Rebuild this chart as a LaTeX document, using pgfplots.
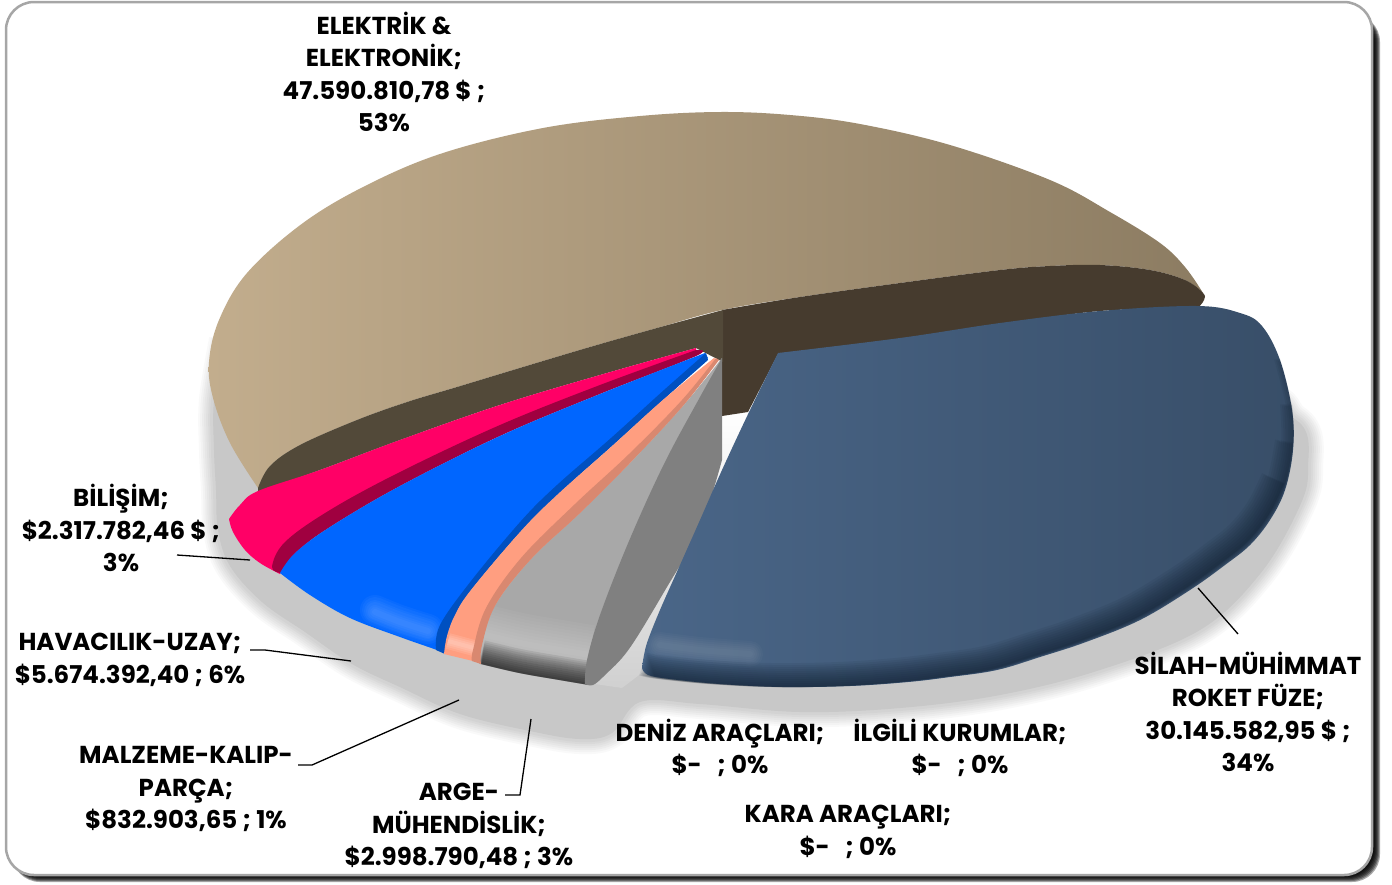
\documentclass[border=0pt]{standalone}
\usepackage{pgfplots}
\usepackage{pgfplotstable}
\usepackage{fontspec}
\setmainfont{Poppins}
\pgfplotsset{compat=1.18}
\definecolor{tanL}{HTML}{C2AD8D}
\definecolor{tanR}{HTML}{8C7C62}
\definecolor{wallL}{HTML}{524939}
\definecolor{wallR}{HTML}{463B2E}
\definecolor{pinkT}{HTML}{FF0066}
\definecolor{pinkD}{HTML}{A00040}
\definecolor{blueT}{HTML}{0066FF}
\definecolor{blueD}{HTML}{0050C0}
\definecolor{peachT}{HTML}{FF9E80}
\definecolor{peachD}{HTML}{D98870}
\definecolor{greyT}{HTML}{A8A8A8}
\definecolor{greyS}{HTML}{808080}
\definecolor{navyL}{HTML}{4A6688}
\definecolor{navyR}{HTML}{384E68}
\definecolor{navyK}{HTML}{0E1C2C}
\definecolor{shad}{HTML}{C8C8C8}
\pgfplotstableread[row sep=\\]{x y\\
224 340\\ 214 400\\ 214 450\\ 216 490\\ 218 530\\ 230 566\\ 262 602\\ 305 632\\ 352 664\\ 402 688\\ 460 714\\ 530 731\\ 580 739\\ 612 733\\ 640 702\\ 700 704\\ 800 712\\ 900 708\\ 1000 695\\ 1100 670\\ 1200 630\\ 1260 574\\ 1298 510\\ 1308 470\\ 1296 420\\ 1200 400\\ 700 500\\ 300 400\\ 224 340\\
}\shadowT
\pgfplotstableread[row sep=\\]{x y\\
1280 362\\ 1292 410\\ 1293 450\\ 1285 490\\ 1270 520\\ 1250 545\\ 1225 565\\ 1190 590\\ 1140 620\\ 1086 642\\ 1040 657\\ 997 670\\ 950 677\\ 908 682\\ 850 686\\ 783 687\\ 720 684\\ 670 679\\ 655 676\\
}\navyArc
\pgfplotstableread[row sep=\\]{x y\\
660 660\\ 700 665\\ 750 669\\
}\navyHi
\pgfplotstableread[row sep=\\]{x y\\
375 627\\ 400 637\\ 428 646\\
}\blueArc
\pgfplotstableread[row sep=\\]{x y\\
448 654\\ 474 661\\
}\peachArc
\pgfplotstableread[row sep=\\]{x y\\
482 664\\ 520 673\\ 560 680\\ 590 685\\
}\greyArc
\begin{document}
\begin{tikzpicture}
\begin{axis}[hide axis,scale only axis,width=1392pt,height=884pt,xmin=0,xmax=1392,ymin=0,ymax=884,y dir=reverse,clip=false,tension=.6]
\path (axis cs:0,0) rectangle (axis cs:1392,884);
% card shadow
\foreach \k in {0,1,2,3,4,5,6}{
  \edef\temp{\noexpand\fill[black,opacity=.34,rounded corners=28pt] (axis cs:12,14) rectangle (axis cs:\the\numexpr1374+\k\relax,\the\numexpr876+\k\relax);}
  \temp
}
\filldraw[fill=white,draw=black!35,line width=2.5pt,rounded corners=28pt] (axis cs:6,2) rectangle (axis cs:1372,875);
% ground shadow
\foreach \w/\o in {30/.10,26/.12,22/.14,18/.16,14/.2,10/.25,6/.3}{
  \edef\temp{\noexpand\addplot[draw=shad,line width=\w pt,opacity=\o,line join=round,smooth,forget plot] table {\noexpand\shadowT};}
  \temp
}
\addplot[fill=shad,draw=none,smooth,forget plot] table {\shadowT};
\addplot[draw=none,top color=white,bottom color=shad!85!white,forget plot] coordinates {(722,415) (752,411) (722,472) (700,520) (680,565) (660,610) (648,645) (643,672) (622,688) (595,684) (629,649) (664,592) (700,528) (722,460)};
% tan slice
\addplot[draw=none,left color=tanL,right color=tanR,smooth,tension=.6,forget plot] coordinates {(258,488) (230,443) (213,398) (209,362) (219,320) (247,273) (303,223) (367,185) (443,153) (543,128) (640,116) (720,112) (790,115) (860,124) (950,145) (1050,180) (1110,212) (1160,243) (1185,267) (1203,293)}
  -- plot[smooth,tension=.6] coordinates {(1203,293) (1185,280) (1150,270) (1100,265) (1050,266) (1000,270) (900,283) (800,297) (722,310) (657,328) (590,347) (523,367) (457,387) (407,402) (357,420) (300,445) (270,466) (258,488)} -- cycle;
% walls
\addplot[fill=wallR,draw=none,smooth,tension=.6,forget plot] coordinates {(722,310) (800,297) (900,283) (1000,270) (1050,266) (1100,265) (1150,270) (1185,280) (1203,293) (1204,300) (1198,308)}
  -- plot[smooth,tension=.6] coordinates {(1198,308) (1100,311) (1000,325) (900,340) (778,354)} -- (axis cs:748,412) -- (axis cs:722,416) -- cycle;
\addplot[fill=wallL,draw=none,smooth,tension=.6,forget plot] coordinates {(258,488) (270,466) (300,445) (357,420) (407,402) (457,387) (523,367) (590,347) (657,328) (723,310)}
  -- (axis cs:723,362) -- (axis cs:696,348) -- plot[smooth,tension=.6] coordinates {(696,348) (600,375) (500,405) (400,440) (320,470) (258,492)} -- cycle;
% pink
\addplot[fill=pinkT,draw=none,smooth,tension=.6,forget plot] coordinates {(696,348) (600,375) (500,405) (400,440) (320,470) (258,491) (240,505) (229,519)}
  -- plot[smooth,tension=.6] coordinates {(229,519) (233,532) (245,550) (260,563) (280,574)}
  -- plot[smooth,tension=.6] coordinates {(280,574) (300,550) (340,515) (400,476) (500,427) (600,387) (696,356)} -- cycle;
\addplot[fill=pinkD,draw=none,smooth,tension=.6,forget plot] coordinates {(696,350) (696,356) (600,394) (500,436) (400,486) (330,527) (295,553) (281,573)}
  -- plot[smooth,tension=.6] coordinates {(281,573) (272,567) (285,542) (330,510) (400,472) (500,425) (600,385) (696,350)} -- cycle;
% blue
\addplot[fill=blueT,draw=none,smooth,tension=.6,forget plot] coordinates {(705,353) (600,394) (500,436) (400,486) (330,527) (295,553) (280,573)}
  -- plot[smooth,tension=.6] coordinates {(280,573) (310,595) (350,618) (400,637) (437,650) (450,655)}
  -- plot[smooth,tension=.6] coordinates {(450,655) (455,618) (471,590) (521,531) (611,445) (665,398) (708,358)} -- cycle;
\foreach \w/\s in {30/17,26/17,22/16,18/16,14/15,10/15,6/15}{
  \edef\temp{\noexpand\addplot[draw=white,opacity=.035,line width=\w pt,line cap=round,smooth,yshift=\s pt,forget plot] table {\noexpand\blueArc};}
  \temp
}
\addplot[fill=blueD,draw=none,smooth,tension=.6,forget plot] coordinates {(706,353) (664,390) (611,438) (557,485) (521,521) (471,581) (440,625) (436,650)}
  -- plot[smooth,tension=.6] coordinates {(436,650) (445,654)}
  -- plot[smooth,tension=.6] coordinates {(445,654) (447,636) (455,615) (471,590) (521,531) (557,495) (611,447) (664,399) (708,360)} -- cycle;
% peach
\addplot[fill=peachT,draw=none,smooth,tension=.6,forget plot] coordinates {(714,358) (664,399) (611,447) (557,495) (521,531) (471,590) (455,615) (447,636) (444,654)}
  -- (axis cs:473,661) -- plot[smooth,tension=.6] coordinates {(473,661) (482,642) (496,604) (532,558) (579,514) (629,464) (682,407) (718,360)} -- cycle;
\foreach \w/\s in {16/13,12/13,8/13,4/13}{
  \edef\temp{\noexpand\addplot[draw=white,opacity=.11,line width=\w pt,yshift=\s pt,forget plot] table {\noexpand\peachArc};}
  \temp
}
% grey
\addplot[fill=greyT,draw=none,smooth,tension=.6,forget plot] coordinates {(722,358) (682,407) (629,464) (579,514) (532,558) (496,604) (482,642) (480,664)}
  -- plot[smooth,tension=.6] coordinates {(480,664) (520,673) (560,680) (588,685)} -- (axis cs:595,660) -- (axis cs:625,560) -- (axis cs:700,400) -- cycle;
\foreach \w in {60,54,48,42,36,30,24,18,12,6}{
  \edef\temp{\noexpand\addplot[draw=white,opacity=.035,line width=\w pt,smooth,yshift=30pt,forget plot] table {\noexpand\greyArc};}
  \temp
}
\foreach \w/\s in {2/1,4/2,6/3,8/4,10/5,12/6,14/7,16/8,18/9,20/10,22/11,24/12}{
  \edef\temp{\noexpand\addplot[draw=black,opacity=.075,line width=\w pt,smooth,yshift=\s pt,forget plot] table {\noexpand\greyArc};}
  \temp
}
\addplot[fill=peachD,draw=none,smooth,tension=.6,forget plot] coordinates {(716,358) (682,400) (629,454) (575,504) (521,558) (486,608) (473,650) (472,661)}
  -- plot[smooth,tension=.6] coordinates {(472,661) (481,664)}
  -- plot[smooth,tension=.6] coordinates {(481,664) (482,645) (496,604) (532,558) (579,514) (629,464) (682,407) (719,360)} -- cycle;
\addplot[fill=greyS,draw=none,smooth,tension=.6,forget plot] coordinates {(722,358) (700,397) (664,464) (629,541) (600,615) (587,660) (585,684)}
  -- plot[smooth,tension=.6] coordinates {(585,684) (593,685) (605,675) (629,649) (664,592) (700,528) (722,460)} -- cycle;
% big navy slice
\addplot[draw=none,left color=navyL,right color=navyR,smooth,tension=.6,forget plot] coordinates {(778,353) (900,338) (1000,323) (1100,311) (1197,306) (1240,313) (1262,326) (1280,360) (1292,410) (1293,450) (1285,490) (1270,520) (1250,545) (1225,565) (1190,590) (1140,620) (1086,642) (1040,657) (997,670) (950,677) (908,682) (850,686) (783,687) (720,684) (670,679) (648,675) (642,668)}
  -- plot[smooth,tension=.6] coordinates {(642,668) (644,655) (648,640) (660,610) (680,565) (700,520) (722,470) (750,410) (778,353)} -- cycle;
\foreach \w in {26,22,18,14,10,6}{
  \edef\temp{\noexpand\addplot[draw=white,opacity=.025,line width=\w pt,line cap=round,smooth,yshift=15pt,forget plot] table {\noexpand\navyHi};}
  \temp
}
\foreach \w/\s/\k in {2/1/0,4/2/0,6/3/0,8/4/1,10/5/1,12/6/1,14/7/2,16/8/2,18/9/2,20/10/3,22/11/3,24/12/3}{
  \edef\temp{\noexpand\addplot[draw=navyK,opacity=.075,line width=\w pt,line join=round,smooth,skip coords between index={0}{\k},xshift=-\s pt,yshift=\s pt,forget plot] table {\noexpand\navyArc};}
  \temp
}
% leader lines
\addplot[black,line width=1.3pt,forget plot] coordinates {(177,555) (250,560)};
\addplot[black,line width=1.3pt,forget plot] coordinates {(250,650) (265,650) (351,661)};
\addplot[black,line width=1.3pt,forget plot] coordinates {(298,765) (312,765) (459,700)};
\addplot[black,line width=1.3pt,forget plot] coordinates {(505,795) (520,795) (531,719)};
\addplot[black,line width=1.3pt,forget plot] coordinates {(1198,588) (1238,634)};
% labels
\tikzset{lab/.style={align=center,inner sep=0pt,font=\fontsize{24.5}{32.5}\selectfont\bfseries}}
\node[lab] at (axis cs:384,72) {ELEKTRİK \&\\ELEKTRONİK;\\47.590.810,78 \$ ;\\53\%};
\node[lab] at (axis cs:1248,712) {SİLAH-MÜHİMMAT\\ROKET FÜZE;\\30.145.582,95 \$ ;\\34\%};
\node[lab] at (axis cs:720,748) {DENİZ ARAÇLARI;\\\$-\ \ \ ; 0\%};
\node[lab] at (axis cs:960,748) {İLGİLİ KURUMLAR;\\\$-\ \ \ ; 0\%};
\node[lab] at (axis cs:848,832) {KARA ARAÇLARI;\\\$-\ \ \ ; 0\%};
\node[lab] at (axis cs:459,826) {ARGE-\\MÜHENDİSLİK;\\\$2.998.790,48 ; 3\%};
\node[lab] at (axis cs:186,789) {MALZEME-KALIP-\\PARÇA;\\\$832.903,65 ; 1\%};
\node[lab] at (axis cs:130,660) {HAVACILIK-UZAY;\\\$5.674.392,40 ; 6\%};
\node[lab] at (axis cs:121,528) {BİLİŞİM;\\\$2.317.782,46 \$ ;\\3\%};
\end{axis}
\end{tikzpicture}
\end{document}
